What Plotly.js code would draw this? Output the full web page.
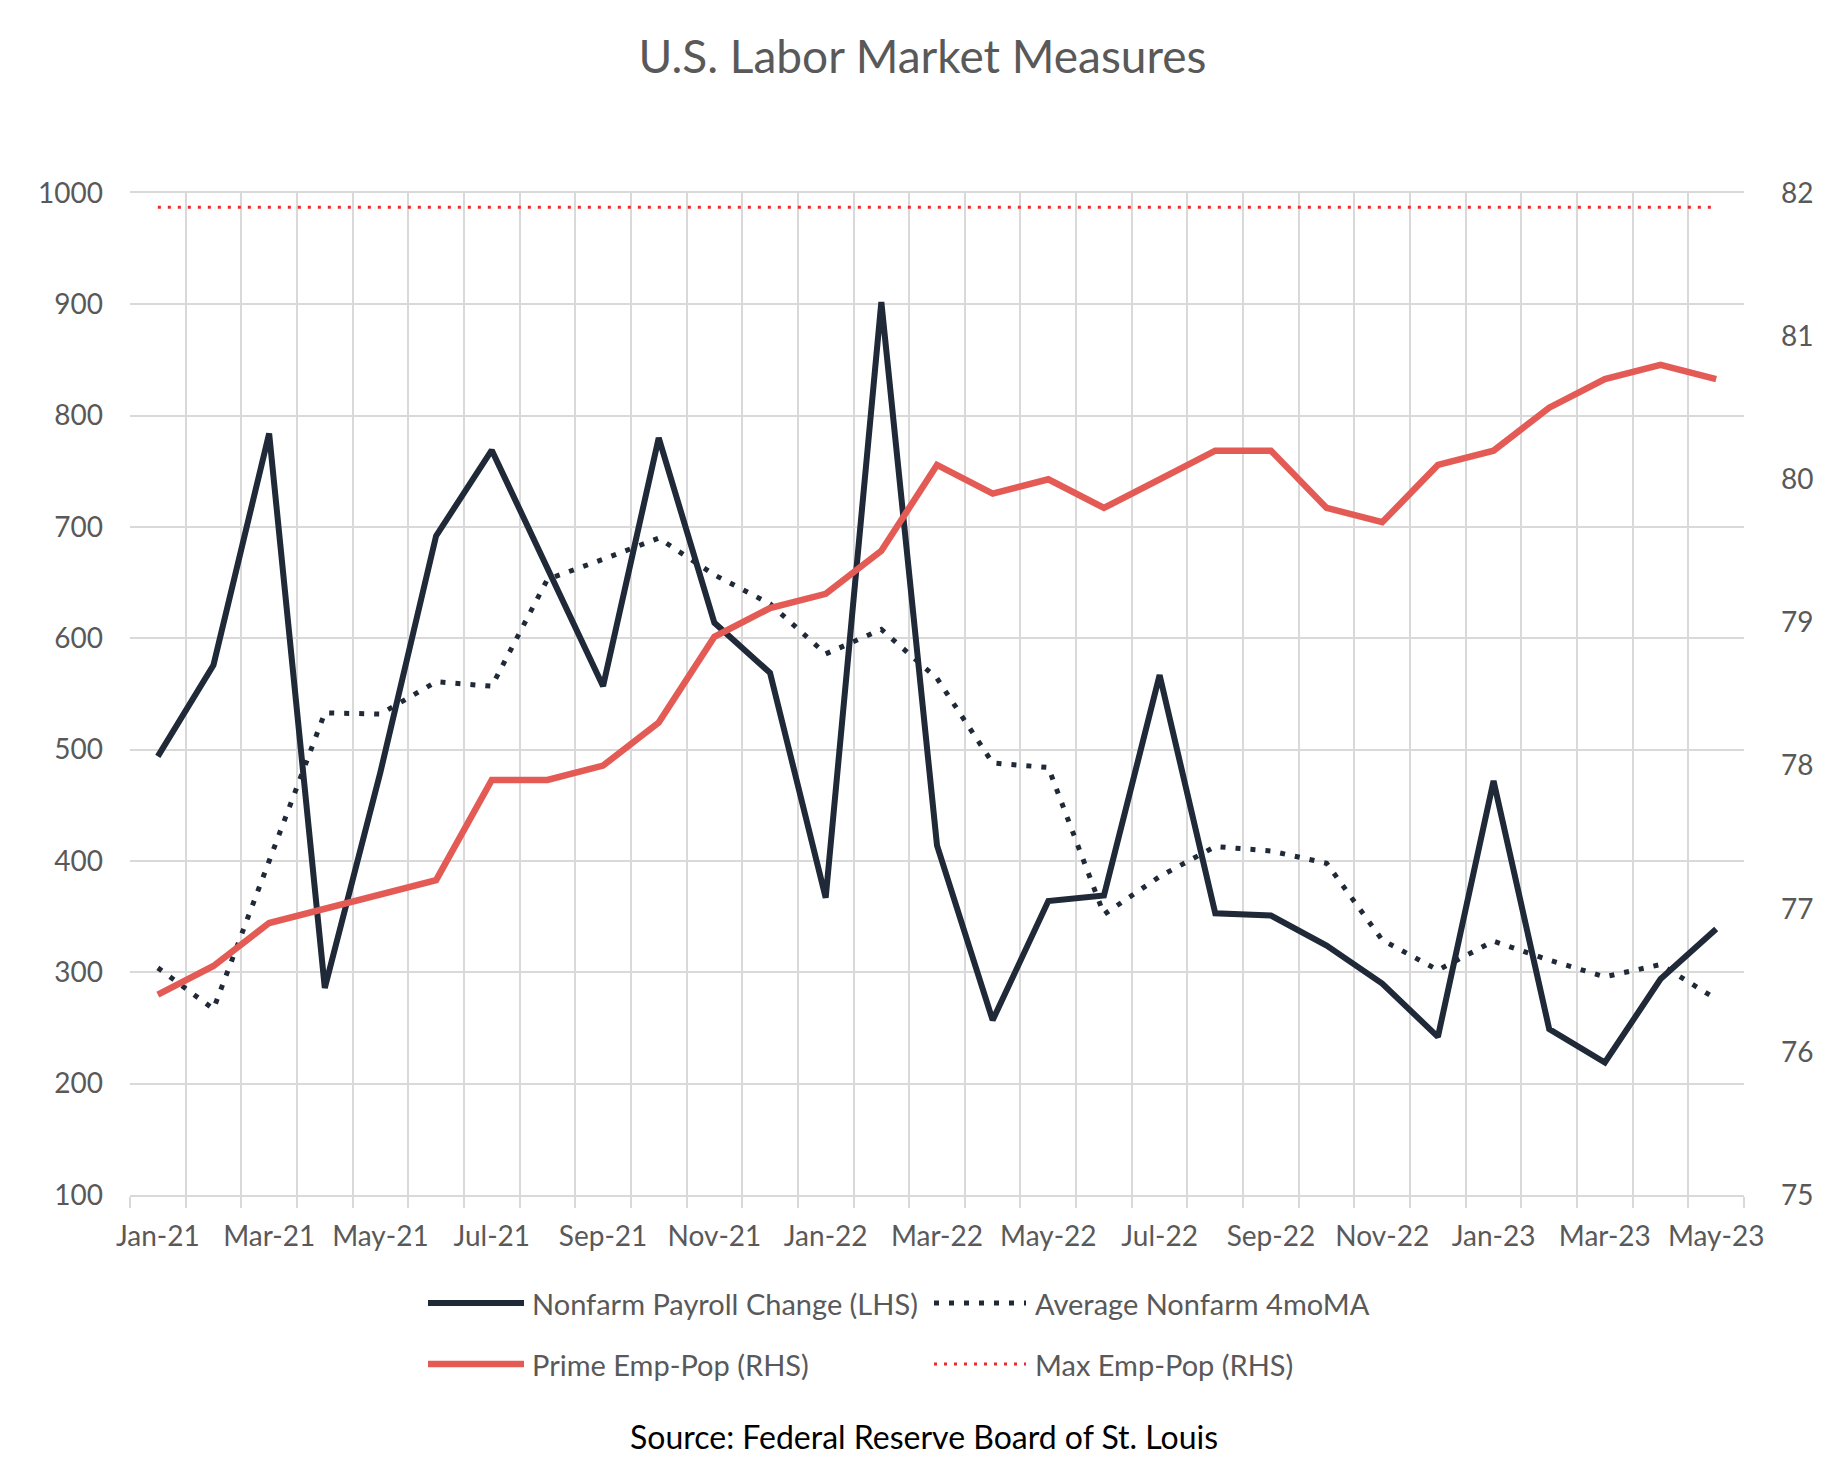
<!DOCTYPE html>
<html>
<head>
<meta charset="utf-8">
<script src="https://cdn.plot.ly/plotly-3.0.1.min.js"></script>
<style>
  html, body { margin: 0; padding: 0; background: #ffffff; }
  #chart { width: 1845px; height: 1477px; }
</style>
</head>
<body>
<div id="chart"></div>
<script>
const months = ['Jan-21','Feb-21','Mar-21','Apr-21','May-21','Jun-21','Jul-21','Aug-21','Sep-21','Oct-21','Nov-21','Dec-21',
                'Jan-22','Feb-22','Mar-22','Apr-22','May-22','Jun-22','Jul-22','Aug-22','Sep-22','Oct-22','Nov-22','Dec-22',
                'Jan-23','Feb-23','Mar-23','Apr-23','May-23'];
const xTickText = ['Jan-21','','Mar-21','','May-21','','Jul-21','','Sep-21','','Nov-21','',
                   'Jan-22','','Mar-22','','May-22','','Jul-22','','Sep-22','','Nov-22','',
                   'Jan-23','','Mar-23','','May-23'];
const payrollChange = [494,576,784,286,480,692,769,663,557,780,614,569,367,902,414,257,364,369,567,353,351,324,290,242,472,249,219,294,339];
const avgNonfarm4mo = [304,267,400,533,532,561,557,653,671,690,657,631,586,608,564,488,484,352,386,413,409,398,329,302,328,311,296,307,276];
const primeEmpPop = [76.4,76.6,76.9,77.0,77.1,77.2,77.9,77.9,78.0,78.3,78.9,79.1,79.2,79.5,80.1,79.9,80.0,79.8,80.0,80.2,80.2,79.8,79.7,80.1,80.2,80.5,80.7,80.8,80.7];
const maxEmpPop = [81.9,81.9,81.9,81.9,81.9,81.9,81.9,81.9,81.9,81.9,81.9,81.9,81.9,81.9,81.9,81.9,81.9,81.9,81.9,81.9,81.9,81.9,81.9,81.9,81.9,81.9,81.9,81.9,81.9];
const legendLabels = ['Nonfarm Payroll Change (LHS)','Average Nonfarm 4moMA','Prime Emp-Pop (RHS)','Max Emp-Pop (RHS)'];

const NAVY = '#1f2937';
const RED = '#e45b56';
const MAXRED = '#ec2a2a';
const GRID = '#d9d9d9';
const TXT = '#595959';
const FONT = 'Lato, "Open Sans", sans-serif';

const traces = [
  { x: months, y: payrollChange, type: 'scatter', mode: 'lines', name: legendLabels[0],
    line: { color: NAVY, width: 6 }, yaxis: 'y' },
  { x: months, y: avgNonfarm4mo, type: 'scatter', mode: 'lines', name: legendLabels[1],
    line: { color: NAVY, width: 5, dash: '5px,10px' }, yaxis: 'y' },
  { x: months, y: primeEmpPop, type: 'scatter', mode: 'lines', name: legendLabels[2],
    line: { color: RED, width: 6.5 }, yaxis: 'y2' },
  { x: months, y: maxEmpPop, type: 'scatter', mode: 'lines', name: legendLabels[3],
    line: { color: MAXRED, width: 3, dash: '3px,7px' }, yaxis: 'y2' }
];

const L = 130, R = 1744, T = 193, B = 1195;
const W = 1845, H = 1477;
const px = X => (X - L) / (R - L);
const py = Y => (B - Y) / (B - T);

const row1 = 1303, row2 = 1364;
const sw1a = 428, sw1b = 524, tx1 = 530;
const sw2a = 934, sw2b = 1026, tx2 = 1033;

const shapes = [
  { type: 'line', xref: 'paper', yref: 'paper', x0: px(sw1a), x1: px(sw1b), y0: py(row1), y1: py(row1),
    line: { color: NAVY, width: 6 } },
  { type: 'line', xref: 'paper', yref: 'paper', x0: px(sw2a), x1: px(sw2b), y0: py(row1), y1: py(row1),
    line: { color: NAVY, width: 5, dash: '5px,10px' } },
  { type: 'line', xref: 'paper', yref: 'paper', x0: px(sw1a), x1: px(sw1b), y0: py(row2), y1: py(row2),
    line: { color: RED, width: 6.5 } },
  { type: 'line', xref: 'paper', yref: 'paper', x0: px(sw2a), x1: px(sw2b), y0: py(row2), y1: py(row2),
    line: { color: MAXRED, width: 3, dash: '3px,7px' } }
];

const legFont = { family: FONT, size: 29, color: TXT };
const annotations = [
  { xref: 'paper', yref: 'paper', x: px(tx1), y: py(row1), xanchor: 'left', yanchor: 'middle', showarrow: false, text: legendLabels[0], font: legFont },
  { xref: 'paper', yref: 'paper', x: px(tx2), y: py(row1), xanchor: 'left', yanchor: 'middle', showarrow: false, text: legendLabels[1], font: legFont },
  { xref: 'paper', yref: 'paper', x: px(tx1), y: py(row2), xanchor: 'left', yanchor: 'middle', showarrow: false, text: legendLabels[2], font: legFont },
  { xref: 'paper', yref: 'paper', x: px(tx2), y: py(row2), xanchor: 'left', yanchor: 'middle', showarrow: false, text: legendLabels[3], font: legFont },
  { xref: 'paper', yref: 'paper', x: px(924), y: py(1436), xanchor: 'center', yanchor: 'middle', showarrow: false,
    text: 'Source: Federal Reserve Board of St. Louis', font: { family: FONT, size: 32, color: '#000000' } }
];

const layout = {
  width: W, height: H,
  paper_bgcolor: '#ffffff', plot_bgcolor: '#ffffff',
  margin: { l: L, r: W - R, t: T, b: H - B, pad: 0 },
  showlegend: false,
  hovermode: false,
  title: { text: 'U.S. Labor Market Measures', x: 0.5, xanchor: 'center', y: 1 - 57 / H, yanchor: 'middle',
           font: { family: FONT, size: 46, color: TXT } },
  font: { family: FONT, color: TXT },
  xaxis: {
    type: 'category', range: [-0.5, 28.5], tickson: 'boundaries',
    tickmode: 'array', tickvals: months, ticktext: xTickText,
    showgrid: true, gridcolor: GRID, gridwidth: 2,
    ticks: 'outside', ticklen: 11, tickwidth: 2, tickcolor: GRID,
    showline: true, mirror: true, linecolor: GRID, linewidth: 2,
    ticklabelstandoff: 15,
    tickfont: { family: FONT, size: 28, color: TXT }, tickangle: 0,
    zeroline: false, fixedrange: true
  },
  yaxis: {
    range: [100, 1000], tickmode: 'linear', tick0: 100, dtick: 100,
    showgrid: true, gridcolor: GRID, gridwidth: 2, zeroline: false,
    showline: false, ticks: '', ticklabelstandoff: 26,
    tickfont: { family: FONT, size: 28, color: TXT }, fixedrange: true
  },
  yaxis2: {
    range: [75, 82], tickmode: 'linear', tick0: 75, dtick: 1,
    overlaying: 'y', side: 'right', showgrid: false, zeroline: false,
    showline: false, ticks: '', ticklabelstandoff: 36,
    tickfont: { family: FONT, size: 28, color: TXT }, fixedrange: true
  },
  shapes: shapes,
  annotations: annotations
};

Plotly.newPlot('chart', traces, layout, { displayModeBar: false, staticPlot: true });
</script>
</body>
</html>
